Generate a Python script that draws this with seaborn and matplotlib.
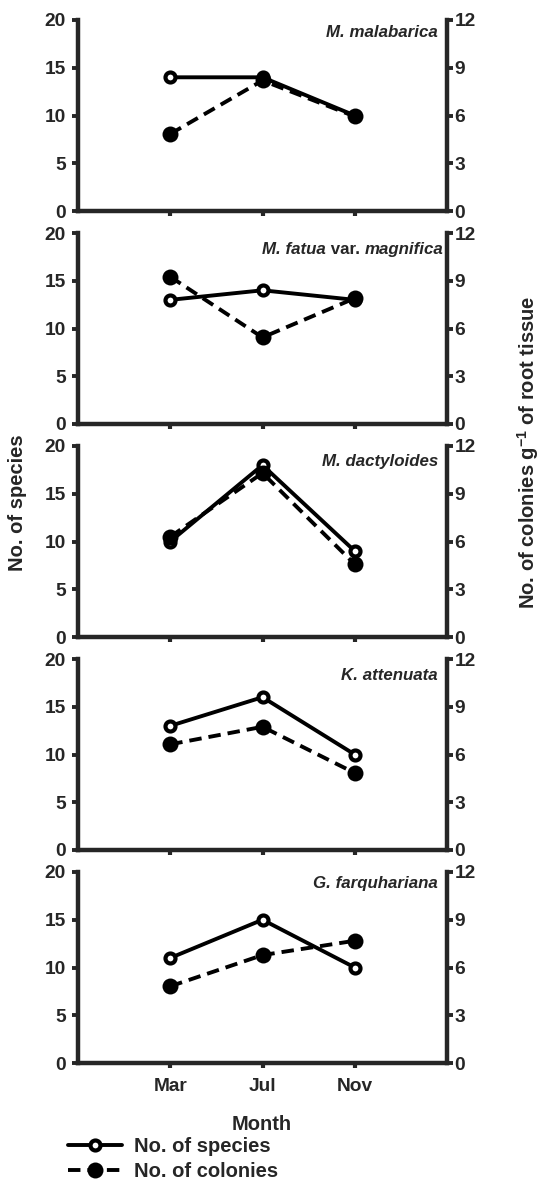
import matplotlib
matplotlib.use("Agg")
import matplotlib.pyplot as plt
from matplotlib.lines import Line2D
import seaborn as sns
import pandas as pd

# --- Dados ---
months = ["Mar", "Jul", "Nov"]
month_pos = [1, 2, 3]

hosts = ["M. malabarica", "M. fatua var. magnifica", "M. dactyloides",
         "K. attenuata", "G. farquhariana"]

sp_malabarica = [14, 14, 10]
col_malabarica = [4.84, 8.2, 5.94]

sp_fatua = [13, 14, 13]
col_fatua = [9.25, 5.44, 7.9]

sp_dactyloides = [10, 18, 9]
col_dactyloides = [6.3, 10.3, 4.57]

sp_attenuata = [13, 16, 10]
col_attenuata = [6.64, 7.74, 4.84]

sp_farquhariana = [11, 15, 10]
col_farquhariana = [4.82, 6.78, 7.68]

species_lists = [sp_malabarica, sp_fatua, sp_dactyloides, sp_attenuata, sp_farquhariana]
colony_lists = [col_malabarica, col_fatua, col_dactyloides, col_attenuata, col_farquhariana]

sp_ticks = [0, 5, 10, 15, 20]
col_ticks = [0, 3, 6, 9, 12]

sns.set_style("ticks")
plt.rcParams["font.family"] = ["Liberation Sans", "DejaVu Sans"]
plt.rcParams["font.weight"] = "bold"
plt.rcParams["mathtext.fontset"] = "custom"
plt.rcParams["mathtext.rm"] = "Liberation Sans:bold"
plt.rcParams["mathtext.bf"] = "Liberation Sans:bold"
plt.rcParams["mathtext.it"] = "Liberation Sans:bold:italic"

W, H = 542, 1179
fig = plt.figure(figsize=(W / 100, H / 100), dpi=100)

LW = 2.8
SPINE_W = 3.2
TICK_FS = 13.8
LABEL_FS = 14.5
NAME_FS = 12.2
DASH = (0, (3.2, 1.8))
hollow = dict(marker="o", markersize=7.2, markerfacecolor="white",
              markeredgecolor="black", markeredgewidth=3)
filled = dict(marker="o", markersize=11.5, markerfacecolor="black",
              markeredgecolor="black", markeredgewidth=0)

left_px, right_px = 78, 447
panel_h = 191
tops = [20, 233, 446, 659, 872]
name_y = [0.935, 0.915, 0.92, 0.915, 0.94]

for i, host in enumerate(hosts):
    top = tops[i]
    ax = fig.add_axes([left_px / W, 1 - (top + panel_h) / H,
                       (right_px - left_px) / W, panel_h / H])
    ax2 = ax.twinx()

    df = pd.DataFrame({"month": month_pos,
                       "species": species_lists[i],
                       "colonies": colony_lists[i]})

    sns.lineplot(data=df, x="month", y="species", ax=ax, color="black",
                 linewidth=LW, **hollow)
    sns.lineplot(data=df, x="month", y="colonies", ax=ax2, color="black",
                 linewidth=LW, linestyle=DASH, **filled)

    ax.set_xlim(0, 4)
    ax.set_ylim(0, 20)
    ax2.set_ylim(0, 12)
    ax.set_yticks(sp_ticks)
    ax2.set_yticks(col_ticks)
    ax.set_xticks(month_pos)
    if i == len(hosts) - 1:
        ax.set_xticklabels(months)
    else:
        ax.set_xticklabels([])
    ax.set_xlabel("")
    ax.set_ylabel("")
    ax2.set_ylabel("")

    for a in (ax, ax2):
        a.spines["top"].set_visible(False)
        for s in ("left", "right", "bottom"):
            a.spines[s].set_linewidth(SPINE_W)
    ax.spines["right"].set_visible(False)
    ax2.spines["left"].set_visible(False)
    ax2.spines["bottom"].set_visible(False)

    ax.tick_params(axis="y", direction="out", length=4, width=2.8,
                   labelsize=TICK_FS, pad=5)
    ax.tick_params(axis="x", direction="out", length=3.5, width=3,
                   labelsize=TICK_FS, pad=7)
    ax2.tick_params(axis="y", direction="out", length=4, width=2.8,
                    labelsize=TICK_FS, pad=1.5)
    for lab in ax.get_yticklabels() + ax.get_xticklabels() + ax2.get_yticklabels():
        lab.set_fontweight("bold")

    # nome da espécie hospedeira (itálico, "var." reto)
    if "var." in host:
        genus, rest = host.split(" var. ")
        t = ax.text(0.99, name_y[i], rest, transform=ax.transAxes, ha="right",
                    va="center", fontsize=NAME_FS, fontweight="bold", style="italic")
        t2 = ax.annotate(" var. ", xy=(0, 0), xycoords=t, ha="right", va="bottom",
                         fontsize=NAME_FS, fontweight="bold")
        ax.annotate(genus, xy=(0, 0), xycoords=t2, ha="right", va="bottom",
                    fontsize=NAME_FS, fontweight="bold", style="italic")
    else:
        ax.text(0.975, name_y[i], host, transform=ax.transAxes, ha="right",
                va="center", fontsize=NAME_FS, fontweight="bold", style="italic")

# rótulos dos eixos
fig.text(18 / W, 1 - 503 / H, "No. of species", rotation=90, ha="center",
         va="center", fontsize=LABEL_FS, fontweight="bold")
fig.text(528 / W, 1 - 452 / H, r"No. of colonies g$^{\mathbf{-1}}$ of root tissue",
         rotation=90, ha="center", va="center", fontsize=LABEL_FS, fontweight="bold")
fig.text(262 / W, 1 - 1124 / H, "Month", ha="center", va="center",
         fontsize=LABEL_FS, fontweight="bold")

# legenda
handles = [
    Line2D([], [], color="black", linewidth=LW, **hollow),
    Line2D([], [], color="black", linewidth=LW, linestyle=DASH, **filled),
]
fig.legend(handles, ["No. of species", "No. of colonies"], loc="upper left",
           bbox_to_anchor=(68 / W, 1 - 1137 / H), frameon=False,
           prop={"size": LABEL_FS, "weight": "bold"}, handlelength=2.7,
           handletextpad=0.6, labelspacing=0.3, borderpad=0, borderaxespad=0)

fig.savefig("out.png", dpi=100)
